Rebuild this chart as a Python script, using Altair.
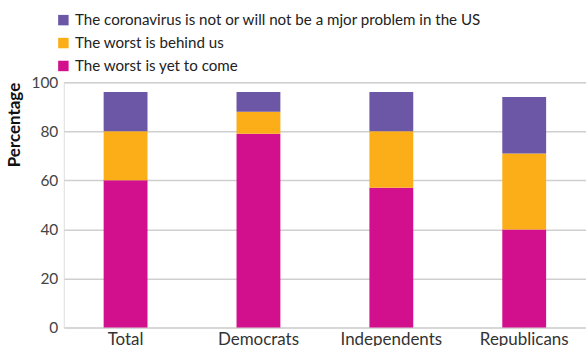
import altair as alt
import pandas as pd

groups = ["Total", "Democrats", "Independents", "Republicans"]
series = [
    "The coronavirus is not or will not be a mjor problem in the US",
    "The worst is behind us",
    "The worst is yet to come",
]
colors = ["#6B57A5", "#FBAE17", "#D20F8C"]
yet_to_come = [60, 79, 57, 40]
behind_us = [20, 9, 23, 31]
not_major = [16, 8, 16, 23]

rows = []
for i, g in enumerate(groups):
    rows.append({"group": g, "series": series[2], "value": yet_to_come[i], "ord": 0})
    rows.append({"group": g, "series": series[1], "value": behind_us[i], "ord": 1})
    rows.append({"group": g, "series": series[0], "value": not_major[i], "ord": 2})
df = pd.DataFrame(rows)

FONT = "Lato"

chart = alt.Chart(df).mark_bar().encode(
    x=alt.X("group:N", sort=groups,
            scale=alt.Scale(paddingInner=0.67, paddingOuter=0.3),
            axis=alt.Axis(title=None, labelAngle=0, ticks=False, domain=False,
                          labelFontSize=17, labelColor="#333", labelPadding=4,
                          labelFont=FONT, grid=False)),
    y=alt.Y("value:Q", stack="zero",
            scale=alt.Scale(domain=[0, 100], nice=False),
            axis=alt.Axis(title="Percentage", values=[0, 20, 40, 60, 80, 100],
                          ticks=False, domain=False, labelFontSize=15.5,
                          labelColor="#444", labelFont=FONT, labelPadding=6,
                          titleFont=FONT, titleFontSize=17, titleFontWeight="bold",
                          titleColor="#111", titlePadding=7, titleAnchor="end",
                          grid=True, gridColor="#cfcfcf", gridWidth=1.5)),
    color=alt.Color("series:N", scale=alt.Scale(domain=series, range=colors),
                    legend=alt.Legend(title=None, orient="none", legendX=-8, legendY=-70,
                                      direction="vertical", symbolType="square",
                                      symbolSize=110, symbolStrokeWidth=0,
                                      labelFont=FONT, labelFontSize=15.2,
                                      labelColor="#222", rowPadding=7,
                                      labelLimit=600, symbolOffset=0)),
    order=alt.Order("ord:Q"),
).properties(
    width=524, height=246,
    autosize=alt.AutoSizeParams(type="none"),
    padding={"left": 64, "top": 82, "right": 0, "bottom": 18},
).configure_view(
    stroke="#cfcfcf", strokeWidth=1.5, cornerRadius=10
).configure(background="white")

chart.save("out.html", embed_options={"renderer": "svg", "actions": False})
